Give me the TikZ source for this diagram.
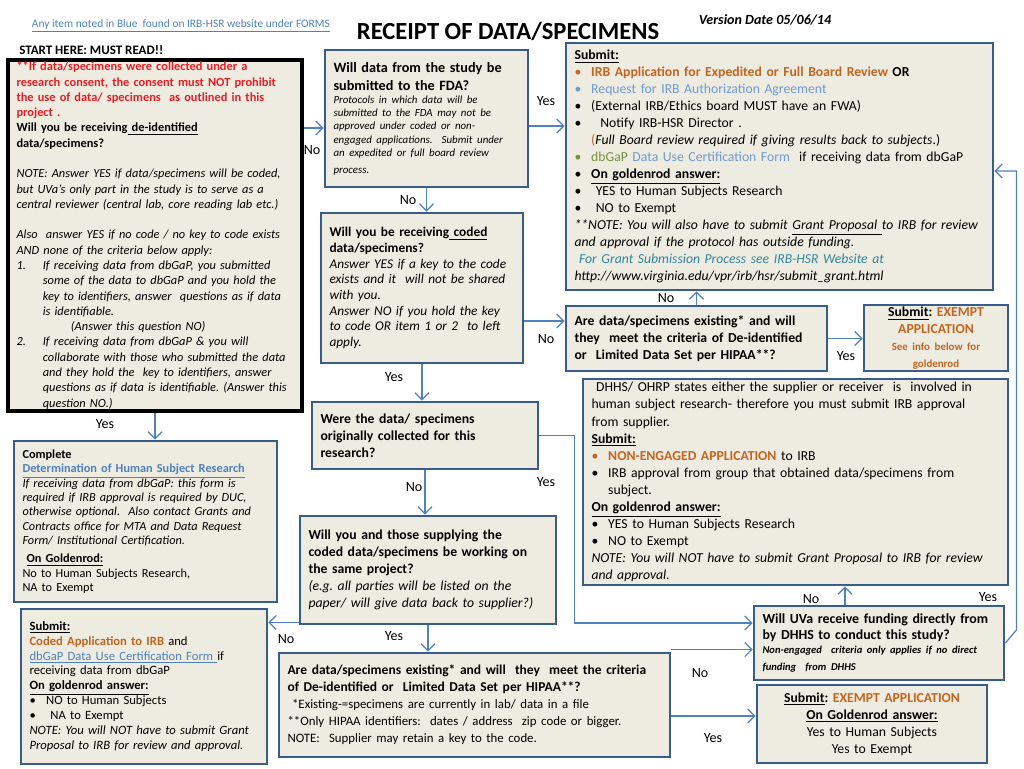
\documentclass[tikz,border=0pt]{standalone}
\usepackage{fontspec}
\setmainfont{Carlito}
\usetikzlibrary{calc,arrows.meta}

\definecolor{boxfill}{HTML}{EEECE1}
\definecolor{boxline}{HTML}{385D8A}
\definecolor{arrblue}{HTML}{4F81BD}
\definecolor{linkblue}{HTML}{4F81BD}
\definecolor{orangeT}{RGB}{196,100,30}
\definecolor{lightblueT}{RGB}{108,155,210}
\definecolor{oliveT}{HTML}{76923C}
\definecolor{tealT}{HTML}{31859C}
\definecolor{alertT}{RGB}{235,28,36}

\newcommand{\bul}[2][black]{\makebox[9.5pt][l]{\textcolor{#1}{\textbullet}}#2}
\frenchspacing

\tikzset{
  box/.style={draw=boxline, line width=1.6pt, fill=boxfill, inner xsep=0.17cm, inner ysep=1pt,
    align=left, font=\fontsize{7.8}{9.7}\selectfont},
  arr/.style={draw=arrblue, line width=0.7pt, -{Straight Barb[length=4pt,width=8pt]}},
  lbl/.style={font=\fontsize{8}{9.7}\selectfont, inner sep=0pt},
}

\begin{document}
\begin{tikzpicture}[x=0.02cm, y=-0.02cm]
\fill[white] (0,0) rectangle (1024,768);
\useasboundingbox (0,0) rectangle (1024,768);

\node[font=\fontsize{6.5}{8}\selectfont, text=linkblue] (note) at (181,26)
  {\underline{Any item noted in Blue\ \ found on IRB-HSR website under FORMS}};
\node[font=\fontsize{14}{16}\selectfont\bfseries] (title) at (508,31) {RECEIPT OF DATA/SPECIMENS};
\node[font=\fontsize{8}{9}\selectfont\bfseries\itshape] (version) at (765,20) {Version Date 05/06/14};
\node[anchor=west, inner sep=0pt, font=\fontsize{7.4}{9}\selectfont\bfseries] (must) at (19,50) {START HERE: MUST READ!!};

\node[box, draw=black, line width=2.2pt, inner ysep=0pt, text width=5.54cm, minimum height=7.02cm,
  font=\fontsize{7.05}{8.7}\selectfont] (start) at (155,235.5) {%
  \textcolor{alertT}{\bfseries **If data/specimens were collected under a\\
  research consent, the consent must NOT prohibit\\
  the use of data/ specimens\ \ as outlined in this\\
  project .}\\
  \textbf{Will you be receiving\underline{ de-identified}}\\
  \textbf{data/specimens?}\\[8.7pt]
  \itshape NOTE: Answer YES if data/specimens will be coded,\\
  but UVa’s only part in the study is to serve as a\\
  central reviewer (central lab, core reading lab etc.)\\[8.7pt]
  Also\ \ answer YES if no code / no key to code exists\\
  AND none of the criteria below apply:\\
  \makebox[15pt][l]{1.}If receiving data from dbGaP, you submitted\\
  \hspace*{15pt}some of the data to dbGaP and you hold the\\
  \hspace*{15pt}key to identifiers, answer\ \ questions as if data\\
  \hspace*{15pt}is identifiable.\\
  \hspace*{31pt}(Answer this question NO)\\
  \makebox[15pt][l]{2.}If receiving data from dbGaP \& you will\\
  \hspace*{15pt}collaborate with those who submitted the data\\
  \hspace*{15pt}and they hold the\ \ key to identifiers, answer\\
  \hspace*{15pt}questions as if data is identifiable. (Answer this\\
  \hspace*{15pt}question NO.)};

\node[box, text width=3.72cm, minimum height=2.74cm] (fda) at (426.5,118.5) {%
  \fontsize{8.1}{10.4}\selectfont\bfseries Will data from the study be\\
  submitted to the FDA?\par
  \fontsize{6.2}{7.5}\selectfont\mdseries\itshape Protocols in which data will be\\
  submitted to the FDA may not be\\
  approved under coded or non-\\
  engaged applications.\ \ Submit under\\
  an expedited or full board review\\
  process.};

\node[box, text width=3.7cm, minimum height=3cm, font=\fontsize{7.6}{8.9}\selectfont] (coded) at (422,288) {%
  \textbf{Will you be receiving\underline{ coded}}\\
  \textbf{data/specimens?}\\
  \itshape Answer YES if a key to the code\\
  exists and it\ \ will not be shared\\
  with you.\\
  Answer NO if you hold the key\\
  to code OR item 1 or 2\ \ to left\\
  apply.};

\node[box, text width=8.2cm, minimum height=4.94cm] (submit) at (779.5,166.5) {%
  \underline{\textbf{Submit:}}\\
  \bul[orangeT]{\textcolor{orangeT}{\bfseries IRB Application for Expedited or Full Board Review} \textbf{OR}}\\
  \bul[lightblueT]{\textcolor{lightblueT}{Request for IRB Authorization Agreement}}\\
  \bul{(External IRB/Ethics board MUST have an FWA)}\\
  \bul{\ \ Notify IRB-HSR Director .}\\
  \hspace*{9.5pt}\textcolor{orangeT}{(}\textit{Full Board review required if giving results back to subjects}.)\\
  \bul[oliveT]{\textcolor{oliveT}{dbGaP} \textcolor{lightblueT}{Data Use Certification Form}\ \ if receiving data from dbGaP}\\
  \bul{\textbf{\underline{On goldenrod answer:}}}\\
  \bul{\ YES to Human Subjects Research}\\
  \bul{\ NO to Exempt}\\
  \textit{**NOTE: You will also have to submit \underline{Grant Proposal }to IRB for review}\\
  \textit{and approval if the protocol has outside funding.}\\
  \textcolor{tealT}{\itshape\ For Grant Submission Process see IRB-HSR Website at}\\
  \textit{http://www.virginia.edu/vpr/irb/hsr/submit\_grant.html}};

\node[box, text width=4.88cm, minimum height=1.3cm, font=\fontsize{7.8}{9.7}\selectfont\bfseries] (exist) at (696.5,338.5) {%
  Are data/specimens existing* and will\\
  they\ \ meet the criteria of De-identified\\
  or\ \ Limited Data Set per HIPAA**?};

\node[box, align=center, text width=2.54cm, minimum height=1.28cm] (exempt) at (936,338) {%
  \textbf{\underline{Submit}: \textcolor{orangeT}{EXEMPT}}\\
  \textcolor{orangeT}{\bfseries APPLICATION}\\
  {\fontsize{6.2}{8}\selectfont\bfseries\color{orangeT}See info below for}\\
  {\fontsize{6.2}{8}\selectfont\bfseries\color{orangeT}goldenrod}};

\node[box, text width=8.16cm, minimum height=4.12cm] (engage) at (795.5,482) {%
  \ DHHS/ OHRP states either the supplier or receiver\ \ is\ \ involved in\\
  human subject research- therefore you must submit IRB approval\\
  from supplier.\\
  \underline{\textbf{Submit:}}\\
  \bul[orangeT]{\textcolor{orangeT}{\bfseries NON-ENGAGED APPLICATION} to IRB}\\
  \bul{IRB approval from group that obtained data/specimens from}\\
  \hspace*{9.5pt}subject.\\
  \textbf{\underline{On goldenrod answer:}}\\
  \bul{YES to Human Subjects Research}\\
  \bul{NO to Exempt}\\
  \textit{NOTE: You will NOT have to submit Grant Proposal to IRB for review}\\
  \textit{and approval.}};

\node[box, text width=4.18cm, minimum height=1.34cm, font=\fontsize{7.8}{9.7}\selectfont\bfseries] (orig) at (425,435.5) {%
  Were the data/ specimens\\
  originally collected for this\\
  research?};

\node[box, text width=4.78cm, minimum height=2.16cm] (same) at (428,570) {%
  \textbf{Will you and those supplying the}\\
  \textbf{coded data/specimens be working on}\\
  \textbf{the same project?}\\
  \itshape (e.g. all parties will be listed on the\\
  paper/ will give data back to supplier?)};

\node[box, text width=4.92cm, minimum height=3.22cm, font=\fontsize{7}{8.2}\selectfont] (hsr) at (145.5,521.5) {%
  \textbf{Complete}\\
  \textcolor{linkblue}{\bfseries\underline{Determination of Human Subject Research}}\\
  \textit{If receiving data from dbGaP: this form is}\\
  \textit{required if IRB approval is required by DUC,}\\
  \textit{otherwise optional.\ \ Also contact Grants and}\\
  \textit{Contracts office for MTA and Data Request}\\
  \textit{Form/ Institutional Certification.}\\[2pt]
  \textbf{\ \underline{On Goldenrod:}}\\
  No to Human Subjects Research,\\
  NA to Exempt};

\node[box, text width=4.58cm, minimum height=3.1cm, font=\fontsize{7.2}{8.5}\selectfont] (codedapp) at (144,686.5) {%
  \underline{\textbf{Submit:}}\\
  \textcolor{orangeT}{\bfseries Coded Application to IRB} and\\
  \textcolor{linkblue}{\underline{dbGaP Data Use Certification Form }}if\\
  receiving data from dbGaP\\
  \textbf{\underline{On goldenrod answer:}}\\
  \bul{NO to Human Subjects}\\
  \bul{\ NA to Exempt}\\
  \textit{NOTE: You will NOT have to submit Grant}\\
  \textit{Proposal to IRB for review and approval.}};

\node[box, text width=7.48cm, minimum height=2.08cm] (deid) at (474.5,705) {%
  \fontsize{7.7}{9.7}\selectfont\bfseries Are data/specimens existing* and will\ \ they\ \ meet the criteria\\
  of De-identified or\ \ Limited Data Set per HIPAA**?\par
  \fontsize{7.3}{9.7}\selectfont\mdseries\ *Existing-=specimens are currently in lab/ data in a file\\
  \relax**Only HIPAA identifiers:\ \ dates / address\ \ zip code or bigger.\\
  NOTE:\ \ Supplier may retain a key to the code.};

\node[box, text width=4.66cm, minimum height=1.48cm] (fund) at (879,643) {%
  \fontsize{7.9}{9}\selectfont\bfseries Will UVa receive funding directly from\\
  by DHHS to conduct this study?\par
  \fontsize{6}{7.8}\selectfont\bfseries\itshape Non-engaged\ \ criteria only applies if no direct\\
  funding\ \ from DHHS};

\node[box, align=center, text width=4.26cm, minimum height=1.56cm] (exempt2) at (872,724) {%
  \textbf{\underline{Submit}: \textcolor{orangeT}{EXEMPT APPLICATION}}\\
  \textbf{\underline{On Goldenrod answer:}}\\
  Yes to Human Subjects\\
  Yes to Exempt};

\coordinate (ab) at ($(fda.west)+(0,9.5)$);
\coordinate (bd) at ($(fda.east)+(0,7.5)$);
\coordinate (ce) at ($(coded.east)+(0,33)$);
\coordinate (hm) at ($(orig.east)+(35,0)$);
\coordinate (mw) at ($(fund.west)+(0,-20)$);
\coordinate (ik) at ($(same.south west)+(0,-3)$);
\coordinate (lm) at ($(deid.north east)+(0,-2)$);
\coordinate (ln) at ($(deid.east)+(0,11)$);
\coordinate (mg) at ($(fund.north)+(-34,0)$);
\coordinate (md) at ($(fund.east)+(11,-13)$);
\coordinate (dm) at ($(submit.east)+(0,4.5)$);

\draw[arr] (start.east |- ab) -- (ab);
\draw[arr] (bd) -- (bd -| submit.west);
\draw[arr] (fda.south) -- (fda.south |- coded.north);
\draw[arr] (ce) -- (ce -| exist.west);
\draw[arr] (coded.south) -- (coded.south |- orig.north);
\draw[arr] (exist.north) -- (exist.north |- submit.south);
\draw[arr] (exist.east) -- (exist.east -| exempt.west);
\draw[arr] (start.south) -- (start.south |- hsr.north);
\draw[arr] (orig.east) -- (hm) |- (mw);
\draw[arr] (orig.south) -- (orig.south |- same.north);
\draw[arr] (ik) -- (ik -| codedapp.east);
\draw[arr] (same.south) -- (same.south |- deid.north);
\draw[arr] (lm) -- (lm -| fund.west);
\draw[arr] (ln) -- (ln -| exempt2.west);
\draw[arr] (mg) -- (mg |- engage.south);
\draw[arr] (fund.east) -- (md) |- (dm);

\node[lbl] (l-ab) at (312,150) {No};
\node[lbl] (l-bd) at (546,101) {Yes};
\node[lbl] (l-bc) at (408,200) {No};
\node[lbl] (l-ce) at (546,339) {No};
\node[lbl] (l-ch) at (394,377) {Yes};
\node[lbl] (l-ed) at (666,298) {No};
\node[lbl] (l-ef) at (846,356) {Yes};
\node[lbl] (l-aj) at (105,424) {Yes};
\node[lbl] (l-hm) at (546,482) {Yes};
\node[lbl] (l-hi) at (414,487) {No};
\node[lbl] (l-ik) at (286,639) {No};
\node[lbl] (l-il) at (394,636) {Yes};
\node[lbl] (l-lm) at (700,673) {No};
\node[lbl] (l-ln) at (713,738) {Yes};
\node[lbl] (l-mg) at (811,599) {No};
\node[lbl] (l-md) at (988,597) {Yes};
\end{tikzpicture}
\end{document}
